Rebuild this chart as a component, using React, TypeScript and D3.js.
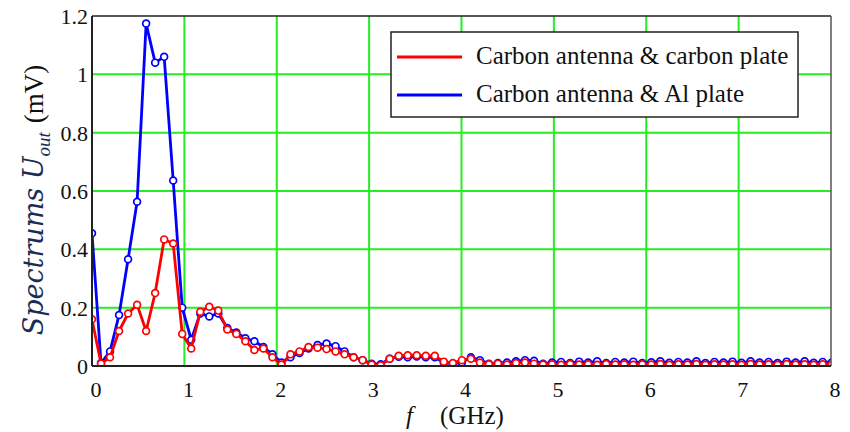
import React from 'react';
import * as d3 from 'd3';

// sample step of the spectrum (GHz)
const df = 0.09765625;

const carbonPlate = [
  0.16, 0.008, 0.03, 0.12, 0.18, 0.21, 0.12, 0.25, 0.434, 0.42,
  0.11, 0.06, 0.186, 0.203, 0.19, 0.125, 0.11, 0.085, 0.055, 0.06,
  0.03, 0.005, 0.04, 0.05, 0.065, 0.063, 0.058, 0.05, 0.04, 0.03,
  0.02, 0.005, 0.002, 0.025, 0.035, 0.037, 0.037, 0.035, 0.035, 0.015,
  0.01, 0.02, 0.025, 0.012, 0.006, 0.008, 0.005, 0.01, 0.012, 0.008,
  0.005, 0.006, 0.004, 0.007, 0.005, 0.006, 0.004, 0.007, 0.005, 0.006,
  0.004, 0.006, 0.005, 0.007, 0.004, 0.006, 0.005, 0.007, 0.004, 0.006,
  0.005, 0.006, 0.004, 0.007, 0.005, 0.006, 0.004, 0.007, 0.005, 0.006,
  0.004, 0.006, 0.005,
];

const alPlate = [
  0.455, 0.01, 0.05, 0.175, 0.366, 0.563, 1.174, 1.04, 1.06, 0.636,
  0.2, 0.09, 0.18, 0.17, 0.18, 0.13, 0.115, 0.095, 0.085, 0.065,
  0.04, 0.012, 0.03, 0.045, 0.06, 0.072, 0.077, 0.068, 0.05, 0.03,
  0.02, 0.008, 0.006, 0.025, 0.032, 0.03, 0.033, 0.03, 0.03, 0.012,
  0.008, 0.012, 0.03, 0.02, 0.008, 0.01, 0.012, 0.016, 0.02, 0.018,
  0.008, 0.012, 0.014, 0.01, 0.015, 0.012, 0.016, 0.01, 0.014, 0.012,
  0.015, 0.01, 0.013, 0.016, 0.011, 0.014, 0.012, 0.016, 0.01, 0.014,
  0.012, 0.015, 0.011, 0.016, 0.012, 0.014, 0.01, 0.015, 0.012, 0.016,
  0.011, 0.014, 0.012,
];

const xTicks = [0, 1, 2, 3, 4, 5, 6, 7, 8];
const yTicks = [0, 0.2, 0.4, 0.6, 0.8, 1, 1.2];

const series = [
  { name: 'Carbon antenna & Al plate', color: '#0000ff', values: alPlate },
  { name: 'Carbon antenna & carbon plate', color: '#ff0000', values: carbonPlate },
];
const legendOrder = [series[1], series[0]];

export default function App() {
  const width = 850;
  const height = 432;
  const left = 92, right = 831, top = 16, bottom = 366;

  const x = d3.scaleLinear().domain([0, 8]).range([left, right]);
  const y = d3.scaleLinear().domain([0, 1.2]).range([bottom, top]);

  const line = d3
    .line<number>()
    .x((_, i) => x(i * df))
    .y((d) => y(d));

  const serif = '"Liberation Serif", "Times New Roman", serif';

  return (
    <svg
      width={width}
      height={height}
      style={{ position: 'absolute', left: 0, top: 0, background: '#fff' }}
      fontFamily={serif}
    >
      <defs>
        <clipPath id="plot">
          <rect x={left} y={top - 4} width={right - left} height={bottom - top + 4} />
        </clipPath>
      </defs>

      {/* grid */}
      {xTicks.slice(1, -1).map((t) => (
        <line key={'gx' + t} x1={x(t)} x2={x(t)} y1={top} y2={bottom} stroke="#22ee22" strokeWidth={2} />
      ))}
      {yTicks.slice(1, -1).map((t) => (
        <line key={'gy' + t} x1={left} x2={right} y1={y(t)} y2={y(t)} stroke="#22ee22" strokeWidth={2} />
      ))}

      {/* series */}
      <g clipPath="url(#plot)">
        {series.map((s) => (
          <g key={s.name}>
            <path d={line(s.values) ?? ''} fill="none" stroke={s.color} strokeWidth={2.8} strokeLinejoin="round" />
            {s.values.map((v, i) => (
              <circle key={i} cx={x(i * df)} cy={y(v)} r={3.4} fill="#fff" stroke={s.color} strokeWidth={1.7} />
            ))}
          </g>
        ))}
      </g>

      {/* frame */}
      <line x1={left} x2={right} y1={top} y2={top} stroke="#222" strokeWidth={1.5} />
      <line x1={right} x2={right} y1={top} y2={bottom} stroke="#555" strokeWidth={1.5} />
      <line x1={left} x2={left} y1={top} y2={bottom} stroke="#222" strokeWidth={2} />
      <line x1={left} x2={right} y1={bottom} y2={bottom} stroke="#222" strokeWidth={2} />

      {/* tick labels */}
      {xTicks.map((t) => (
        <text key={'tx' + t} x={x(t) + 4} y={397} fontSize={22} textAnchor="middle" fill="#111">
          {t}
        </text>
      ))}
      {yTicks.map((t) => (
        <text key={'ty' + t} x={88} y={y(t) + 8} fontSize={22} textAnchor="end" fill="#111">
          {t}
        </text>
      ))}

      {/* axis titles */}
      <text x={406} y={424} fontSize={25} fontStyle="italic" fill="#111">f</text>
      <text x={440} y={424} fontSize={25} fill="#111">(GHz)</text>
      <text transform="translate(43,200) rotate(-90)" fontSize={27} textAnchor="middle" fill="#111">
        <tspan fontStyle="italic" fill="#1b2d55" fontFamily='"DejaVu Serif", serif' fontSize={27}>Spectrums U</tspan>
        <tspan fontStyle="italic" fill="#1b2d55" fontSize={19} dy={7}>out</tspan>
        <tspan dy={-7} dx={9}>(mV)</tspan>
      </text>

      {/* legend */}
      <rect x={391} y={32} width={407} height={85} fill="#fff" stroke="#222" strokeWidth={1.5} />
      {legendOrder.map((s, i) => (
        <g key={'lg' + s.name}>
          <line x1={397} x2={462} y1={57 + i * 38} y2={57 + i * 38} stroke={s.color} strokeWidth={2.8} />
          <text x={476} y={64 + i * 38} fontSize={25} fill="#111">
            {s.name}
          </text>
        </g>
      ))}
    </svg>
  );
}
